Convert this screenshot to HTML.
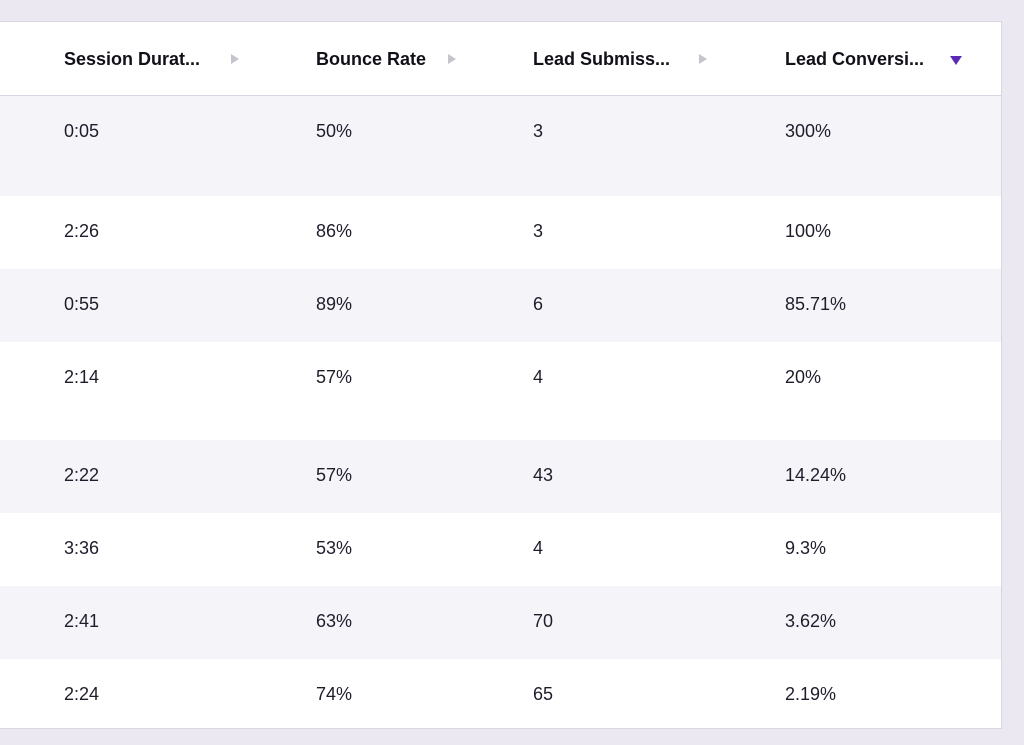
<!DOCTYPE html>
<html><head><meta charset="utf-8"><style>
body{margin:0;width:1024px;height:745px;background:#ebe8f2;font-family:"Liberation Sans",sans-serif;overflow:hidden;position:relative}
#card{position:absolute;left:-1px;top:21px;width:1001px;height:706px;background:#fff;border:1px solid #d9d6e3}
.row{position:absolute;left:0;width:1001px}
.hdr{top:0;height:73px;border-bottom:1px solid #d9d6e3}
.shade{background:#f5f4f9}
.c{position:absolute;font-size:18px;color:#1f1d2b;white-space:nowrap}
.h{font-weight:bold;color:#121018;top:27px}
.tri{position:absolute;width:0;height:0;border-top:5px solid transparent;border-bottom:5px solid transparent;border-left:8px solid #c5c3cd;top:32px}
.down{position:absolute;width:0;height:0;border-left:6px solid transparent;border-right:6px solid transparent;border-top:9px solid #5b2bb5;top:34px}
</style></head><body>
<div id="card">
<div class="row hdr">
<span class="c h" style="left:64px">Session Durat...</span><span class="tri" style="left:231px"></span>
<span class="c h" style="left:316px">Bounce Rate</span><span class="tri" style="left:448px"></span>
<span class="c h" style="left:533px">Lead Submiss...</span><span class="tri" style="left:699px"></span>
<span class="c h" style="left:785px">Lead Conversi...</span><span class="down" style="left:950px"></span>
</div>
<div id="body"></div>
</div>
<script>
const durations=["0:05","2:26","0:55","2:14","2:22","3:36","2:41","2:24"];
const bounce=["50%","86%","89%","57%","57%","53%","63%","74%"];
const leads=["3","3","6","4","43","4","70","65"];
const conv=["300%","100%","85.71%","20%","14.24%","9.3%","3.62%","2.19%"];
const heights=[100,73,73,98,73,73,73,70];
const body=document.getElementById('body');
let y=74;
const xs=[64,316,533,785];
const names=['session-duration','bounce-rate','lead-submissions','lead-conversion'];
for(let i=0;i<durations.length;i++){
  const r=document.createElement('div');
  r.className='row'+(i%2===0?' shade':'');
  r.style.top=y+'px';r.style.height=heights[i]+'px';
  
  
  const vals=[durations[i],bounce[i],leads[i],conv[i]];
  vals.forEach((v,j)=>{
    const s=document.createElement('span');
    s.className='c';s.style.left=xs[j]+'px';s.style.top='25px';s.textContent=v;
    
    
    r.appendChild(s);
  });
  body.appendChild(r);
  y+=heights[i];
}
</script>
</body></html>
